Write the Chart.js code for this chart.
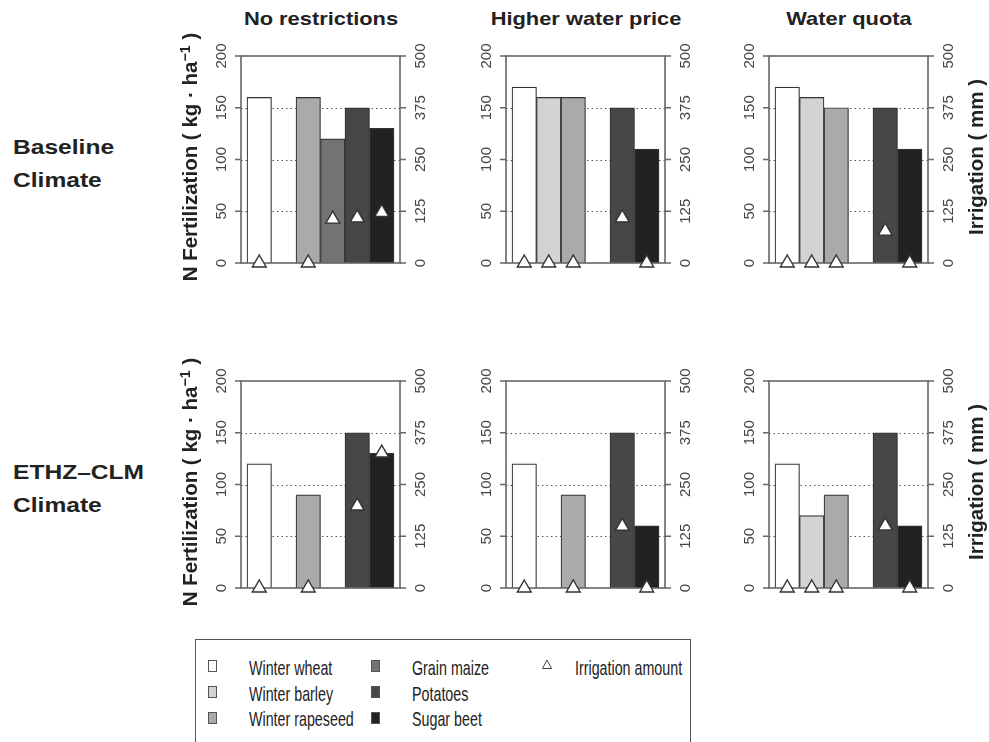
<!DOCTYPE html>
<html lang="en">
<head>
<meta charset="UTF-8">
<title>N fertilization and irrigation</title>
<script src="https://cdn.jsdelivr.net/npm/chart.js"></script>
<style>
  body { margin: 0; background: #fff; font-family: "Liberation Sans", Arial, sans-serif; color: #222; }
  #page { position: relative; width: 989px; height: 742px; overflow: hidden; }
  canvas { position: absolute; }
  .txt { position: absolute; white-space: nowrap; line-height: 1; }
  .ttl { font-weight: bold; font-size: 19px; transform: translateX(-50%) scaleX(1.15); }
  .row { font-weight: bold; font-size: 21px; transform: scaleX(1.17); transform-origin: left center; }
  .ax { font-weight: bold; font-size: 20.5px; transform: translate(-50%, -50%) rotate(-90deg); }
  .sup { font-size: 0.7em; position: relative; top: -0.5em; }
  .leg { font-size: 21px; transform: scaleX(0.68); transform-origin: left center; }
  .sw { position: absolute; width: 9px; height: 12px; border: 1px solid #555; box-sizing: border-box; }
  #legbox { position: absolute; left: 195px; top: 639px; width: 496px; height: 130px; border: 1px solid #555; box-sizing: border-box; }
</style>
</head>
<body>
<div id="page">
  <div id="legbox"></div>
</div>
<script>
const crops = ['Winter wheat', 'Winter barley', 'Winter rapeseed', 'Grain maize', 'Potatoes', 'Sugar beet'];
const cropColors = ['#ffffff', '#d3d3d3', '#aaaaaa', '#737373', '#474747', '#222222'];
const scenarios = ['No restrictions', 'Higher water price', 'Water quota'];
const climates = [['Baseline', 'Climate'], ['ETHZ\u2013CLM', 'Climate']];

// N fertilization (kg/ha), one value per crop, null = crop not grown
const fertBaseNoRestr = [160, null, 160, 120, 150, 130];
const fertBasePrice = [170, 160, 160, null, 150, 110];
const fertBaseQuota = [170, 160, 150, null, 150, 110];
const fertEthzNoRestr = [120, null, 90, null, 150, 130];
const fertEthzPrice = [120, null, 90, null, 150, 60];
const fertEthzQuota = [120, 70, 90, null, 150, 60];

// irrigation amount (mm)
const irrBaseNoRestr = [0, null, 0, 106, 109, 122];
const irrBasePrice = [0, 0, 0, null, 109, 0];
const irrBaseQuota = [0, 0, 0, null, 77, 0];
const irrEthzNoRestr = [0, null, 0, null, 198, 326];
const irrEthzPrice = [0, null, 0, null, 149, 0];
const irrEthzQuota = [0, 0, 0, null, 150, 0];

const fertTicks = [0, 50, 100, 150, 200];
const irrTicks = [0, 125, 250, 375, 500];

const fertRows = [[fertBaseNoRestr, fertBasePrice, fertBaseQuota], [fertEthzNoRestr, fertEthzPrice, fertEthzQuota]];
const irrRows = [[irrBaseNoRestr, irrBasePrice, irrBaseQuota], [irrEthzNoRestr, irrEthzPrice, irrEthzQuota]];

// layout
const colLeft = [241, 506, 769];
const rowTop = [56, 381];
const boxW = 159, boxH = 207;
const padL = 45, padR = 45, padT = 12, padB = 16;

const page = document.getElementById('page');

function addText(cls, html, left, top) {
  const d = document.createElement('div');
  d.className = 'txt ' + cls;
  d.innerHTML = html;
  d.style.left = left + 'px';
  d.style.top = top + 'px';
  page.appendChild(d);
  return d;
}

// dotted grid, box, ticks and rotated tick labels
const axesPlugin = {
  id: 'rAxes',
  beforeDatasetsDraw(chart) {
    const {ctx, chartArea: a, scales: {y}} = chart;
    ctx.save();
    ctx.strokeStyle = '#555';
    ctx.lineWidth = 1;
    ctx.setLineDash([1.5, 3]);
    fertTicks.forEach(v => {
      if (v <= y.min || v >= y.max) return;
      const py = Math.round(y.getPixelForValue(v)) + 0.5;
      ctx.beginPath();
      ctx.moveTo(a.left, py);
      ctx.lineTo(a.right, py);
      ctx.stroke();
    });
    ctx.restore();
  },
  afterDatasetDraw(chart, args) {
    if (args.meta.type !== 'bar') return;
    const {ctx, chartArea: a, scales: {y, y2}} = chart;
    ctx.save();
    ctx.strokeStyle = '#666';
    ctx.lineWidth = 1.6;
    ctx.strokeRect(a.left, a.top, a.right - a.left, a.bottom - a.top);
    ctx.beginPath();
    fertTicks.forEach(v => {
      const py = y.getPixelForValue(v);
      ctx.moveTo(a.left - 6, py);
      ctx.lineTo(a.left, py);
    });
    irrTicks.forEach(v => {
      const py = y2.getPixelForValue(v);
      ctx.moveTo(a.right, py);
      ctx.lineTo(a.right + 6, py);
    });
    ctx.stroke();
    ctx.restore();
  },
  afterDraw(chart) {
    const {ctx, chartArea: a, scales: {y, y2}} = chart;
    ctx.save();
    ctx.fillStyle = '#444';
    ctx.font = '15px "Liberation Sans", Arial, sans-serif';
    ctx.textAlign = 'center';
    ctx.textBaseline = 'alphabetic';
    const label = (x, py, s) => {
      ctx.save();
      ctx.translate(x, py);
      ctx.rotate(-Math.PI / 2);
      ctx.fillText(s, 0, 0);
      ctx.restore();
    };
    fertTicks.forEach(v => label(a.left - 15, y.getPixelForValue(v), String(v)));
    irrTicks.forEach(v => label(a.right + 25, y2.getPixelForValue(v), String(v)));
    ctx.restore();
  }
};

function makePanel(r, c) {
  const fert = fertRows[r][c];
  const irr = irrRows[r][c];
  const cv = document.createElement('canvas');
  const w = boxW + padL + padR, h = boxH + padT + padB;
  cv.width = w; cv.height = h;
  cv.style.left = (colLeft[c] - padL) + 'px';
  cv.style.top = (rowTop[r] - padT) + 'px';
  page.appendChild(cv);

  const barPts = [], barCols = [], triPts = [];
  crops.forEach((name, i) => {
    if (fert[i] !== null) { barPts.push({x: i + 0.5, y: fert[i]}); barCols.push(cropColors[i]); }
    if (irr[i] !== null) triPts.push({x: i + 0.5, y: irr[i]});
  });

  new Chart(cv, {
    type: 'bar',
    data: {
      datasets: [
        {
          type: 'scatter',
          label: 'Irrigation amount',
          data: triPts,
          yAxisID: 'y2',
          pointStyle: 'triangle',
          pointRadius: 8,
          pointHoverRadius: 8,
          pointBackgroundColor: '#ffffff',
          pointBorderColor: '#333',
          pointBorderWidth: 1.4,
          clip: false,
          order: 1
        },
        {
          label: 'N fertilization',
          data: barPts,
          yAxisID: 'y',
          backgroundColor: barCols,
          borderColor: '#333',
          borderWidth: 1.2,
          barPercentage: 1,
          categoryPercentage: 1,
          order: 2
        }
      ]
    },
    options: {
      responsive: false,
      animation: false,
      events: [],
      layout: { padding: { left: padL, right: padR, top: padT, bottom: padB } },
      plugins: { legend: { display: false }, tooltip: { enabled: false } },
      scales: {
        x: {
          type: 'linear', display: false, offset: false, min: -0.245, max: 6.245,
          afterBuildTicks: s => { s.ticks = [0, 1, 2, 3, 4, 5, 6].map(v => ({value: v})); }
        },
        y: { type: 'linear', display: false, min: 0, max: 200 },
        y2: { type: 'linear', position: 'right', display: false, min: 0, max: 500 }
      }
    },
    plugins: [axesPlugin]
  });
}

for (let r = 0; r < 2; r++) for (let c = 0; c < 3; c++) makePanel(r, c);

// column titles
scenarios.forEach((s, c) => addText('ttl', s, colLeft[c] + boxW / 2, 9));

// row labels and axis titles
climates.forEach((lines, r) => {
  const off = rowTop[r] - rowTop[0];
  addText('row', lines[0], 13, 135.5 + off);
  addText('row', lines[1], 13, 169 + off);
  addText('ax', 'N Fertilization ( kg \u00b7 ha<span class="sup">\u22121</span> )', 190, 157 + off);
  addText('ax', 'Irrigation ( mm )', 976, 157 + off);
});

// legend
const legRowBase = [674.3, 700.3, 726];
const legSwX = [212.7, 375.7];
const legTxtX = [249.3, 411.7];
crops.forEach((name, i) => {
  const col = Math.floor(i / 3), row = i % 3;
  const sw = document.createElement('div');
  sw.className = 'sw';
  sw.style.background = cropColors[i];
  sw.style.left = (legSwX[col] - 4.5) + 'px';
  sw.style.top = (legRowBase[row] - 14) + 'px';
  page.appendChild(sw);
  addText('leg', name, legTxtX[col], legRowBase[row] - 17.8);
});
const tri = document.createElementNS('http://www.w3.org/2000/svg', 'svg');
tri.setAttribute('width', '12');
tri.setAttribute('height', '11');
tri.style.position = 'absolute';
tri.style.left = '541px';
tri.style.top = '659px';
tri.innerHTML = '<polygon points="6,1 10.5,9.5 1.5,9.5" fill="#fff" stroke="#444" stroke-width="1"/>';
page.appendChild(tri);
addText('leg', 'Irrigation amount', 575, legRowBase[0] - 17.8);
</script>
</body>
</html>
